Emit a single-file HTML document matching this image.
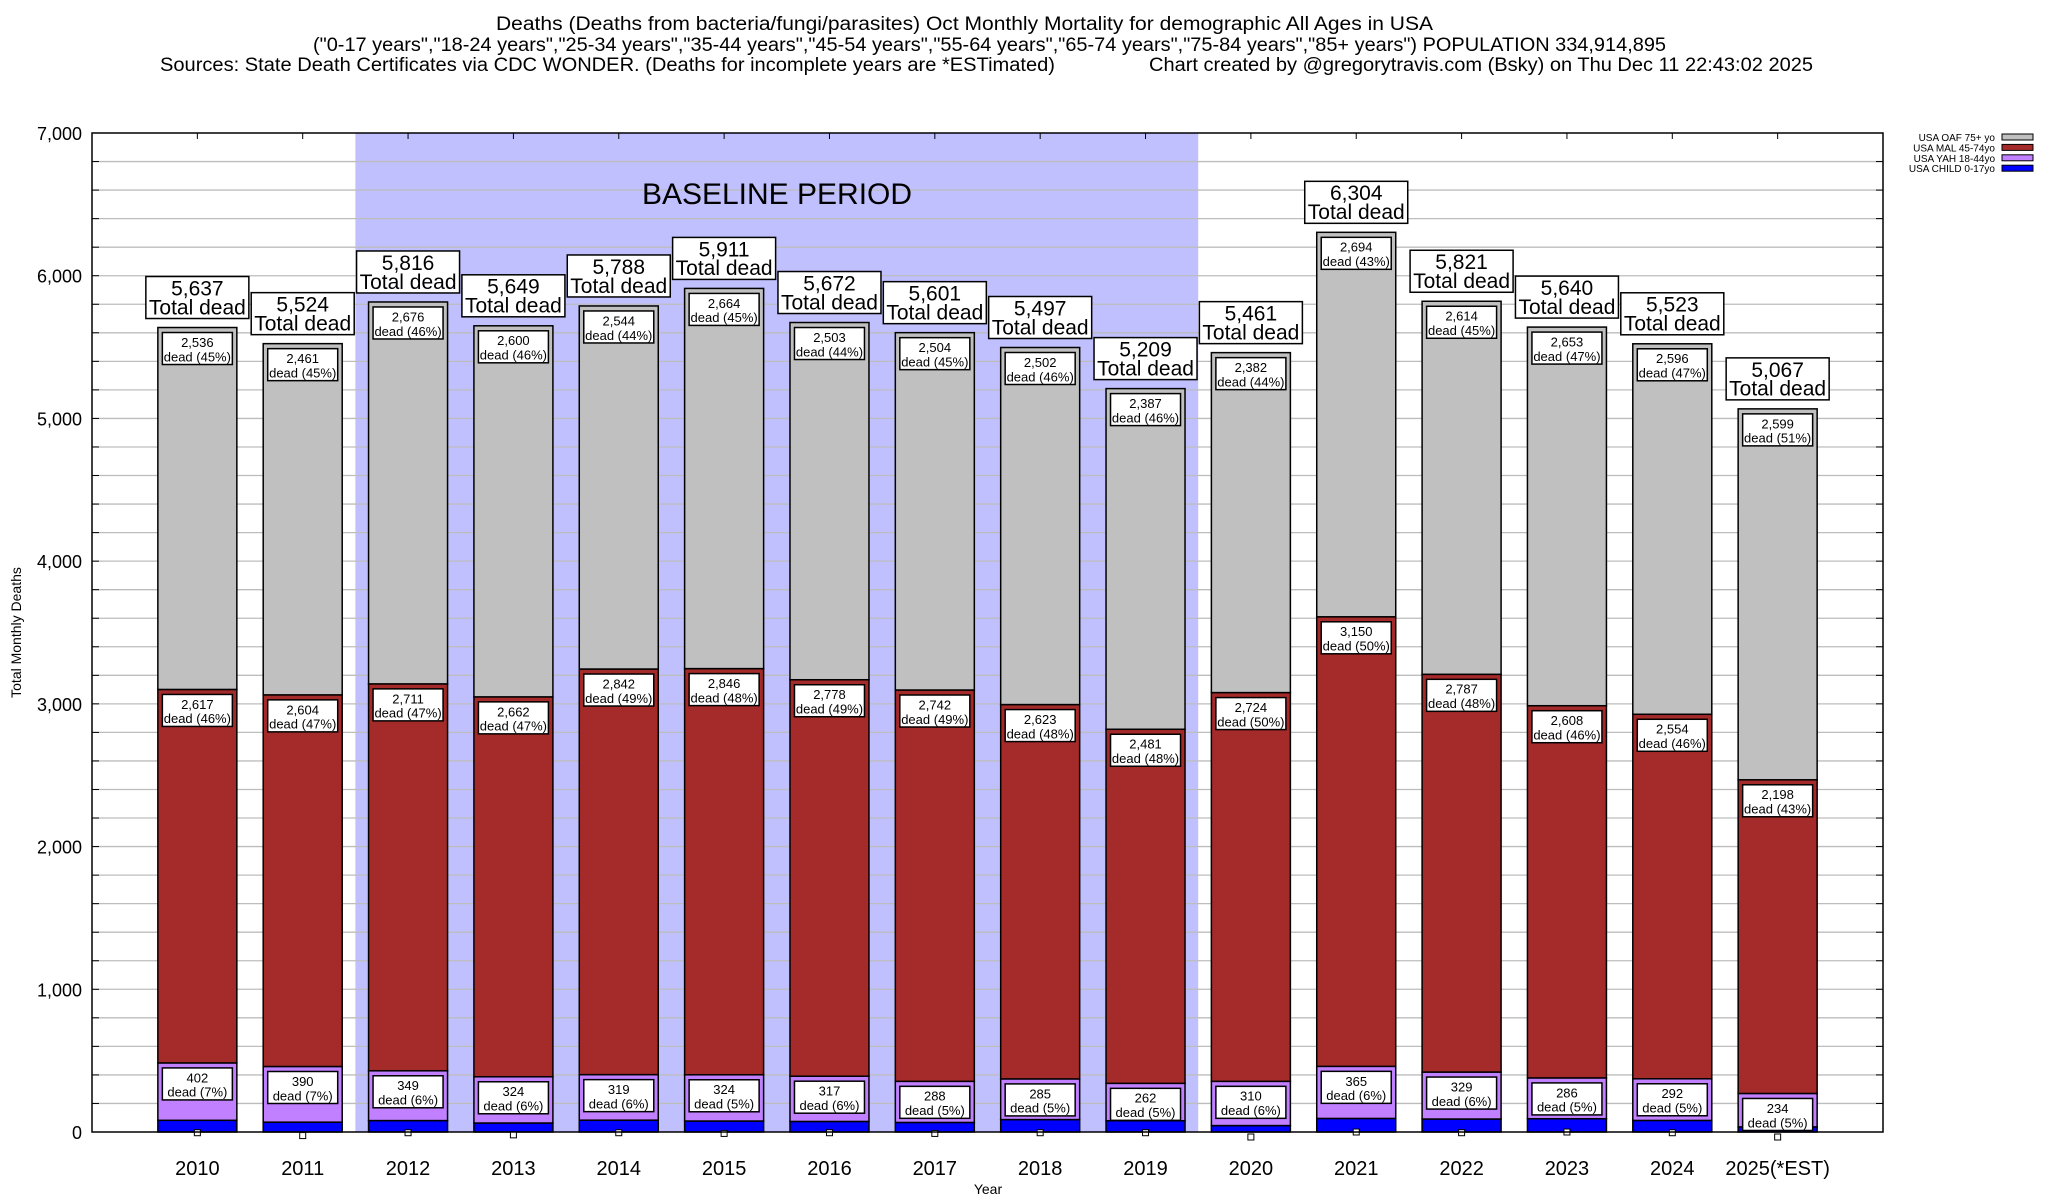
<!DOCTYPE html>
<html><head><meta charset="utf-8"><style>
html,body{margin:0;padding:0;background:#fff}
svg{display:block;font-family:"Liberation Sans",sans-serif}
</style></head><body>
<svg id="chart" width="2048" height="1200" viewBox="0 0 2048 1200" xmlns="http://www.w3.org/2000/svg">
<text x="496" y="30" font-size="19" textLength="937" lengthAdjust="spacingAndGlyphs">Deaths (Deaths from bacteria/fungi/parasites) Oct Monthly Mortality for demographic All Ages in USA</text>
<text x="313" y="51" font-size="19" textLength="1353" lengthAdjust="spacingAndGlyphs">("0-17 years","18-24 years","25-34 years","35-44 years","45-54 years","55-64 years","65-74 years","75-84 years","85+ years") POPULATION 334,914,895</text>
<text x="160" y="71" font-size="19" textLength="895" lengthAdjust="spacingAndGlyphs">Sources: State Death Certificates via CDC WONDER. (Deaths for incomplete years are *ESTimated)</text>
<text x="1149" y="71" font-size="19" textLength="664" lengthAdjust="spacingAndGlyphs">Chart created by @gregorytravis.com (Bsky) on Thu Dec 11 22:43:02 2025</text>
<g id="plot"></g>
</svg>
<script>
const years = ["2010","2011","2012","2013","2014","2015","2016","2017","2018","2019","2020","2021","2022","2023","2024","2025(*EST)"];
const totals = [5637,5524,5816,5649,5788,5911,5672,5601,5497,5209,5461,6304,5821,5640,5523,5067];
const oaf = [2536,2461,2676,2600,2544,2664,2503,2504,2502,2387,2382,2694,2614,2653,2596,2599];
const mal = [2617,2604,2711,2662,2842,2846,2778,2742,2623,2481,2724,3150,2787,2608,2554,2198];
const yah = [402,390,349,324,319,324,317,288,285,262,310,365,329,286,292,234];
const child = [82,69,80,63,83,77,74,67,87,79,45,95,91,93,81,36];
const markerVals = [-5,-25,-5,-20,-5,-10,-5,-10,-5,-5,-35,0,-5,0,-5,-35];
const yTicks = [0,1000,2000,3000,4000,5000,6000,7000];
const baselineStart = 2, baselineEnd = 9;

const NS="http://www.w3.org/2000/svg";
const g=document.getElementById('plot');
const L=92,R=1883,T=133,B=1132,YMAX=7000;
const step=(R-L)/17, barW=79;
const y=v=>B-(v/YMAX)*(B-T);
const xc=i=>L+step*(i+1);
const fmt=v=>v.toLocaleString('en-US');
function el(tag,attrs,parent){const e=document.createElementNS(NS,tag);for(const k in attrs)e.setAttribute(k,attrs[k]);(parent||g).appendChild(e);return e;}
function txt(s,attrs,parent){const e=el('text',attrs,parent);e.textContent=s;return e;}

let bp=el('rect',{x:xc(baselineStart)-step/2,y:T,width:step*(baselineEnd-baselineStart+1),height:B-T,fill:'#c0c0ff'});


for(let v=200;v<YMAX;v+=200){
  let gl=el('line',{x1:L,x2:R,y1:y(v),y2:y(v),stroke:'#bdbdbd','stroke-width':1.3});
  
  
  el('line',{x1:L,x2:L+7,y1:y(v),y2:y(v),stroke:'#000'});
  el('line',{x1:R-7,x2:R,y1:y(v),y2:y(v),stroke:'#000'});
}
let bpt=txt('BASELINE PERIOD',{x:777,y:204,'font-size':30,'text-anchor':'middle'});


yTicks.forEach(v=>{
  let t=txt(fmt(v),{x:82,y:y(v)+7,'font-size':18,'text-anchor':'end'});
  
  
});
let yt=txt('Total Monthly Deaths',{x:0,y:0,'font-size':14,'text-anchor':'middle',transform:`translate(21,${(T+B)/2}) rotate(-90)`});


let xt=txt('Year',{x:988,y:1194,'font-size':14,'text-anchor':'middle'});



function labelBox(cx,top,l1,l2,w,h,fs,name){
  let grp=el('g',{});
  
  
  el('rect',{x:cx-w/2,y:top,width:w,height:h,fill:'#fff',stroke:'#000','stroke-width':1.5},grp);
  txt(l1,{x:cx,y:top+h*0.45,'font-size':fs,'text-anchor':'middle'},grp);
  txt(l2,{x:cx,y:top+h*0.9,'font-size':fs,'text-anchor':'middle'},grp);
}

years.forEach((yr,i)=>{
  const cx=xc(i), x0=cx-barW/2;
  const segs=[[child[i],'#0000ff','child'],[yah[i],'#c080ff','yah'],[mal[i],'#a52a2a','mal'],[oaf[i],'#c0c0c0','oaf']];
  let base=0;
  segs.forEach(([v,c,n])=>{
    let r=el('rect',{x:x0,y:y(base+v),width:barW,height:y(base)-y(base+v),fill:c,stroke:'#000','stroke-width':1.5});
    
    
    if(n!=='child'){
      const pct=Math.round(v/totals[i]*100);
      labelBox(cx,y(base+v)+5,fmt(v),'dead ('+pct+'%)',70,32,13,'segment-label-'+n+'-'+yr);
    }
    base+=v;
  });
  labelBox(cx,y(totals[i])-51,fmt(totals[i]),'Total dead',103,42,21,'total-label-'+yr);
  let m=el('rect',{x:cx-3,y:y(markerVals[i])-3,width:6,height:6,fill:'#fff',stroke:'#000'});
  
  
  let xl=txt(yr,{x:cx,y:1175,'font-size':20,'text-anchor':'middle'});
  
  
  el('line',{x1:cx,x2:cx,y1:T,y2:T+6,stroke:'#000'});
});
let fr=el('rect',{x:L,y:T,width:R-L,height:B-T,fill:'none',stroke:'#000','stroke-width':1.5});


const legNames=["USA OAF 75+ yo","USA MAL 45-74yo","USA YAH 18-44yo","USA CHILD 0-17yo"];
const legColors=["#c0c0c0","#a52a2a","#c080ff","#0000ff"];
legNames.forEach((n,k)=>{
  let grp=el('g',{});
  
  
  const ly=141+k*10.4;
  txt(n,{x:1995,y:ly,'font-size':10,'text-anchor':'end'},grp);
  el('rect',{x:2002,y:ly-7,width:31,height:6,fill:legColors[k],stroke:'#000'},grp);
});
</script>
</body></html>
